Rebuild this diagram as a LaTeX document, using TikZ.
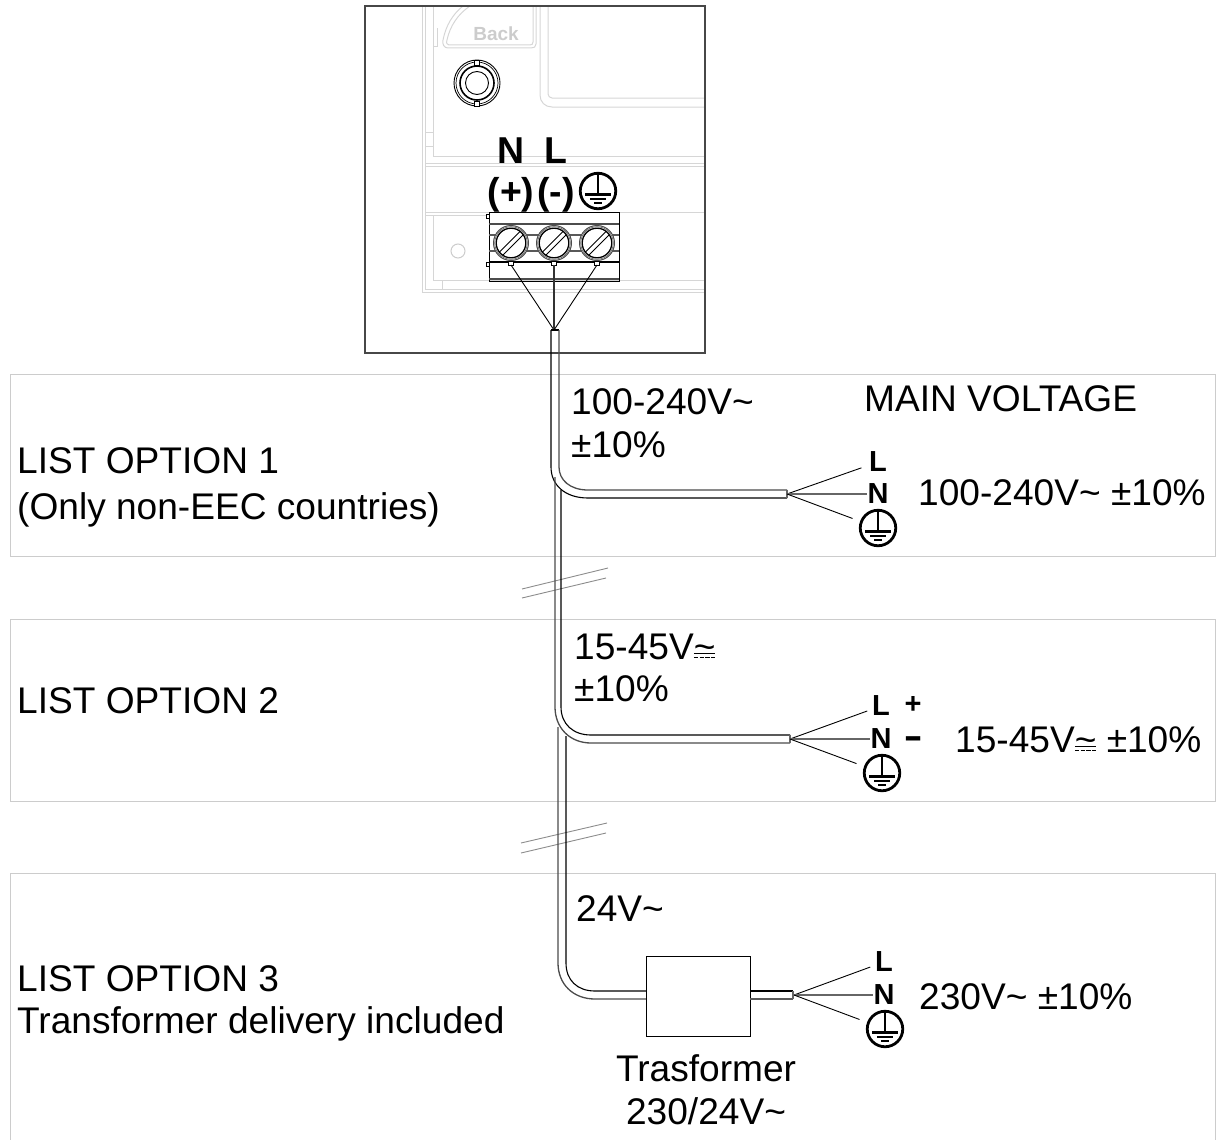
\documentclass[tikz,border=0pt]{standalone}
\usepackage{fontspec}
\setmainfont{Liberation Sans}
\usetikzlibrary{calc}
\newcommand{\acdc}{\rlap{\char`\~}\rlap{\raisebox{5pt}{\rule{21.5pt}{1.4pt}}}\raisebox{1.2pt}{\rule{4.2pt}{1.3pt}\hspace{1.6pt}\rule{4.2pt}{1.3pt}\hspace{1.6pt}\rule{4.2pt}{1.3pt}\hspace{1.6pt}\rule{4.2pt}{1.3pt}}}
\definecolor{panelgray}{HTML}{CCCCCC}
\definecolor{faintgray}{HTML}{D6D6D6}
\tikzset{
  txt/.style={anchor=base west,inner sep=0pt,font=\fontsize{37.1}{37.1}\selectfont},
  ctxt/.style={anchor=base,inner sep=0pt,font=\fontsize{37.1}{37.1}\selectfont},
  bold/.style={anchor=center,inner sep=0pt,font=\bfseries\fontsize{29}{29}\selectfont},
  boldb/.style={anchor=base,inner sep=0pt,font=\bfseries\fontsize{37.4}{37.4}\selectfont},
  panel/.style={draw=panelgray,line width=1pt},
  faint/.style={draw=faintgray,line width=1pt},
  cable/.style={draw=black,line width=1.1pt},
  cablelow/.style={draw=black!65,line width=1.3pt},
  wire/.style={draw=black,line width=.9pt},
  nwire/.style={draw=black!60,line width=1.4pt},
  breakmark/.style={draw=black!45,line width=.9pt},
  earthring/.style={circle,draw=black,line width=2.8pt,minimum size=35.5pt,inner sep=0pt},
  terminal/.style={draw=black,line width=.9pt},
  pics/earthsym/.style={code={
    \draw[line width=2pt] (0,-18)--(0,3);
    \draw[line width=3pt] (-13,3)--(13,3);
    \draw[line width=2.8pt] (-8,8)--(8,8);
    \draw[line width=2.8pt] (-4,12)--(4,12);
  }},
  pics/screw/.style={code={
    \draw[draw=black!70,line width=1pt,fill=white] (0,0) circle (17.5);
    \draw[draw=black!60,line width=.7pt] (0,0) circle (16.3);
    \draw[line width=1.3pt,fill=white] (0,0) circle (14.8);
    \draw[line width=.8pt] (-11.5,9)--(9,-11.5);
    \draw[line width=.8pt] (-8,12)--(12,-8);
    \draw[line width=.7pt,fill=white] (-2.5,18) rectangle (2.5,22);
  }},
}
\begin{document}
\begin{tikzpicture}[x=1pt,y=-1pt]
\useasboundingbox (0,0) rectangle (1218,1140);

% panels
\draw[panel] (10,374) rectangle (1215.5,556);
\draw[panel] (10,619) rectangle (1215.5,801);
\draw[panel] (10,1140) -- (10,873) -- (1215.5,873) -- (1215.5,1140);

% device faint details
\begin{scope}[faint]
  \draw (422,6) -- (422,292) -- (705,292);
  \draw (425,6) -- (425,289) -- (705,289);
  \draw (433,6) -- (433,156) -- (705,156);
  \draw (425,132) -- (433,132);
  \draw (425,146) -- (433,146);
  \draw (425,163) -- (705,163);
  \draw (425,166) -- (705,166);
  \draw (425,212) -- (705,212);
  \draw (425,215) -- (489,215);
  \draw (433,215) -- (433,280) -- (705,280);
  \draw (442,280) -- (442,289);
  \draw (540,6) -- (540,95) .. controls (540,102) and (545,107) .. (552,107) -- (705,107);
  \draw (548,6) -- (548,94) .. controls (548,96) and (550,98) .. (552,98) -- (705,98);
  \draw (533,6) -- (533,42) .. controls (533,44) and (532,45) .. (530,45) -- (449,45) .. controls (447,45) and (446,43) .. (447,40) .. controls (450,26) and (458,14) .. (470,6);
  \draw (536,6) -- (536,44) .. controls (536,47) and (534,48) .. (531,48) -- (448,48) .. controls (444,48) and (442,44) .. (443,40) .. controls (446,25) and (453,14) .. (463,6);
  \draw (433,28) -- (433,47) -- (437,47) -- (437,28);
  \draw[panelgray] (458,251) circle (7);
\end{scope}
\node[anchor=base,inner sep=0pt,text=panelgray,font=\bfseries\fontsize{19}{19}\selectfont] (back) at (496,41) {Back};

% device frame
\draw[draw=black!72,line width=1.5pt] (365,6) rectangle (705,353);

% knob
\draw[line width=.9pt] (477,83) circle (23);
\draw[line width=.7pt] (477,83) circle (21);
\draw[line width=1.6pt] (477,83) circle (17);
\draw[line width=.9pt] (477,83) circle (11.5);
\draw[line width=.7pt,fill=white] (474.5,60) rectangle (479.5,65);
\draw[line width=.7pt,fill=white] (474.5,101) rectangle (479.5,106);

% terminal block
\draw[terminal] (489,212) rectangle (619,281);
\draw[line width=2pt,draw=black!70] (489,223.5) -- (619,223.5);
\draw[terminal,line width=1.4pt,draw=black!65] (489,235) -- (619,235);
\draw[terminal,line width=1.4pt,draw=black!65] (489,251) -- (619,251);
\draw[terminal,line width=1.2pt] (489,262) -- (619,262);
\draw[line width=2pt,draw=black!70] (489,279) -- (619,279);
\draw[terminal,fill=white] (486,214) rectangle (489,218);
\draw[terminal,fill=white] (486,262) rectangle (489,266);
\pic at (511,243) {screw};
\pic at (554,243) {screw};
\pic at (597,243) {screw};
\coordinate (t1) at (511,265);
\coordinate (t2) at (554,265);
\coordinate (t3) at (597,265);
\coordinate (fan) at (554,330);
\draw[wire] (t1) -- (fan);
\draw[nwire,draw=black!80] (t2) -- (fan);
\draw[wire] (t3) -- (fan);

% terminal labels
\node[boldb] (tN) at (511,163) {N};
\node[boldb] (tL) at (556,163) {L};
\node[boldb] (tP) at (511,204) {(+)};
\node[boldb] (tM) at (556,204) {(-)};
\node[earthring] (te) at (598,191) {};
\pic at (598,191) {earthsym};

% break marks
\draw[breakmark] (522,589) -- (608,568);
\draw[breakmark] (522,598) -- (606,578);
\draw[breakmark] (521,843) -- (607,823);
\draw[breakmark] (521,853) -- (606,833);

% cable 1
\draw[cable] (551,330) -- (559,330);
\draw[cable] (551,330) -- (551,467) .. controls (551,485) and (565,498) .. (588,498) -- (787,498);
\draw[cablelow,draw=black!70] (559,330) -- (559,467) .. controls (559,480) and (570,490) .. (588,490) -- (787,490);
\draw[draw=black!60,line width=1.4pt] (787,490) -- (787,498);
% cable 2
\draw[cablelow,draw=black!70] (555,477) -- (555,707) .. controls (555,728) and (570,743) .. (591,743) -- (790,743);
\draw[cable] (561,490) -- (561,707) .. controls (561,724) and (573,735) .. (591,735) -- (790,735);
\draw[draw=black!60,line width=1.4pt] (790,735) -- (790,743);
% cable 3
\draw[cablelow,draw=black!70] (558,727) -- (558,963) .. controls (558,984) and (573,999) .. (595,999) -- (646,999);
\draw[cable] (566,736) -- (566,963) .. controls (566,980) and (577,991) .. (595,991) -- (646,991);
\draw[line width=1pt] (646,956) rectangle (750,1036);
\node[minimum width=104pt,minimum height=80pt,inner sep=0pt] (trafo) at (698,996) {};
\draw[cable] (trafo.east |- 0,991) -- (793,991);
\draw[cablelow] (trafo.east |- 0,999) -- (793,999);
\draw[draw=black!60,line width=1.4pt] (793,991) -- (793,999);

% option 1 leads
\coordinate (e1) at (787,494);
\node[bold] (L1) at (878,462) {L};
\node[bold] (N1) at (878,494) {N};
\node[earthring] (G1) at (878,528) {};
\pic at (878,528) {earthsym};
\draw[wire,shorten >=8pt] (e1) -- (L1);
\draw[nwire] (e1) -- (N1);
\draw[wire,shorten >=8pt] (e1) -- (G1);
% option 2 leads
\coordinate (e2) at (790,739);
\node[bold] (L2) at (881,706) {L};
\node[bold] (N2) at (881,739) {N};
\node[earthring] (G2) at (882,773) {};
\pic at (882,773) {earthsym};
\node[bold] (plus) at (913,705) {+};
\node[bold] (minus) at (914,750) {\smash{\scalebox{1}[1.5]{–}}};
\draw[wire,shorten >=5pt] (e2) -- (L2);
\draw[nwire] (e2) -- (N2);
\draw[wire,shorten >=8pt] (e2) -- (G2);
% option 3 leads
\coordinate (e3) at (794,995);
\node[bold] (L3) at (884,962) {L};
\node[bold] (N3) at (884,995) {N};
\node[earthring] (G3) at (885,1029) {};
\pic at (885,1029) {earthsym};
\draw[wire,shorten >=5pt] (e3) -- (L3);
\draw[nwire] (e3) -- (N3);
\draw[wire,shorten >=8pt] (e3) -- (G3);

% texts
\node[txt] (a1) at (571,414) {100-240V\char`\~};
\node[txt] (a2) at (571,457) {±10\%};
\node[txt] (mv) at (864,411) {MAIN VOLTAGE};
\node[txt] (o1) at (17,473) {LIST OPTION 1};
\node[txt] (o1b) at (17,519) {(Only non-EEC countries)};
\node[txt] (v1) at (918,505) {100-240V\char`\~{} ±10\%};
\node[txt] (b1) at (574,659) {15-45V\acdc};
\node[txt] (b2) at (574,701) {±10\%};
\node[txt] (o2) at (17,713) {LIST OPTION 2};
\node[txt] (v2) at (955,752) {15-45V\acdc{} ±10\%};
\node[txt] (c1) at (576,921) {24V\char`\~};
\node[txt] (o3) at (17,991) {LIST OPTION 3};
\node[txt] (o3b) at (17,1033) {Transformer delivery included};
\node[txt] (v3) at (919,1009) {230V\char`\~{} ±10\%};
\node[ctxt] (tr1) at (706,1081) {Trasformer};
\node[ctxt] (tr2) at (706,1124) {230/24V\char`\~};
\end{tikzpicture}
\end{document}
